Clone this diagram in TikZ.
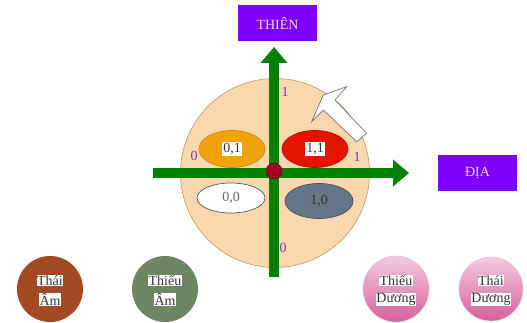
\documentclass[tikz,border=0pt]{standalone}
\usepackage{fontspec}
\setmainfont{Liberation Serif}
\usetikzlibrary{arrows.meta,shapes.geometric}
\definecolor{boxviolet}{HTML}{7F00FF}
\definecolor{boxtext}{HTML}{F4DDF4}
\definecolor{axisgreen}{HTML}{008000}
\definecolor{peach}{HTML}{FAD7AC}
\definecolor{peachline}{HTML}{C8A070}
\definecolor{dotred}{HTML}{A20025}
\definecolor{ellorange}{HTML}{F0A30A}
\definecolor{ellred}{HTML}{E51400}
\definecolor{ellgrey}{HTML}{647687}
\definecolor{numviolet}{HTML}{6A3FB5}
\definecolor{sienna}{HTML}{A34A24}
\definecolor{sage}{HTML}{6D8764}
\definecolor{pinktop}{HTML}{F4CADF}
\definecolor{pinkbot}{HTML}{D6609A}
\begin{document}
\begin{tikzpicture}[x=1pt,y=-1pt,
  lbl/.style={font=\fontsize{14}{16}\selectfont},
  violetbox/.style={fill=boxviolet,draw=none,minimum width=79pt,minimum height=36pt,inner sep=0pt,text=boxtext,lbl},
  axis/.style={draw=axisgreen,line width=10pt,-{Triangle[width=26pt,length=16pt]}},
  quad/.style={ellipse,minimum width=66pt,minimum height=37pt,inner sep=0pt,line width=0.7pt},
  tag/.style={fill=white,inner sep=1pt,lbl,text=black!80},
  num/.style={lbl,text=numviolet,inner sep=0pt},
  ball/.style={circle,minimum size=66pt,inner sep=0pt},
  balltext/.style={fill=white,inner sep=0.6pt,lbl,text=black!80}
]
\useasboundingbox (0,0) rectangle (527,323);

% big circle
\node[circle,minimum size=189pt,inner sep=0pt,fill=peach,draw=peachline,line width=0.7pt] (disc) at (275,173) {};

% quadrant ellipses
\node[quad,fill=ellorange,draw=ellorange!85!black] (e01) at (232,149) {};
\node[tag] (t01) at (e01) {0,1};
\node[quad,fill=ellred,draw=ellred!80!black] (e11) at (315,149) {};
\node[tag] (t11) at (e11) {1,1};
\node[quad,fill=white,draw=black!65,minimum width=68pt,minimum height=30pt] (e00) at (231,198) {};
\node[lbl,text=black!60] (t00) at (e00) {0,0};
\node[quad,fill=ellgrey,draw=ellgrey!70!black,minimum width=68pt,minimum height=35pt] (e10) at (319,201) {};
\node[lbl,text=black!80] (t10) at (e10) {1,0};

% axes
\coordinate (vb) at (274,277);
\coordinate (vt) at (274,47);
\coordinate (hl) at (153,173);
\coordinate (hr) at (409,173);
\draw[axis] (hl) -- (hr);
\draw[axis] (vb) -- (vt);

% center dot
\node[circle,minimum size=16pt,inner sep=0pt,fill=dotred,draw=dotred!70!black] (dot) at (274,171) {};

% axis numbers
\node[num] (ntop) at (285,92) {1};
\node[num] (nleft) at (194,156) {0};
\node[num] (nright) at (357,157) {1};
\node[num] (nbot) at (283,248) {0};

% white block arrow
\draw[fill=white,draw=black!55,line width=0.7pt,line join=miter]
  (311.7,121.7) -- (323.3,95) -- (346.7,86.7) -- (335,100) -- (366.7,133.3)
  -- (356.7,141.7) -- (323.3,110) -- cycle;

% labels boxes
\node[violetbox] (thien) at (277.5,23) {THIÊN};
\node[violetbox] (dia) at (477.5,173.5) {ĐỊA};

% bottom balls
\node[ball,fill=sienna] (thaiam) at (50,289) {};
\node[balltext] at (50,280.5) {Thái};
\node[balltext] at (50,299.5) {Âm};

\node[ball,fill=sage] (thieuam) at (165,289) {};
\node[balltext] at (165,280.5) {Thiếu};
\node[balltext] at (165,299.5) {Âm};

\node[ball,top color=pinktop,bottom color=pinkbot,draw=pinkbot!40,line width=0.6pt] (thieuduong) at (396,289) {};
\node[balltext] at (396,280.5) {Thiếu};
\node[balltext] at (396,299.5) {Dương};

\node[ball,minimum size=64pt,top color=pinktop,bottom color=pinkbot,draw=pinkbot!40,line width=0.6pt] (thaiduong) at (491,289) {};
\node[balltext] at (491,280.5) {Thái};
\node[balltext] at (491,299.5) {Dương};
\end{tikzpicture}
\end{document}
